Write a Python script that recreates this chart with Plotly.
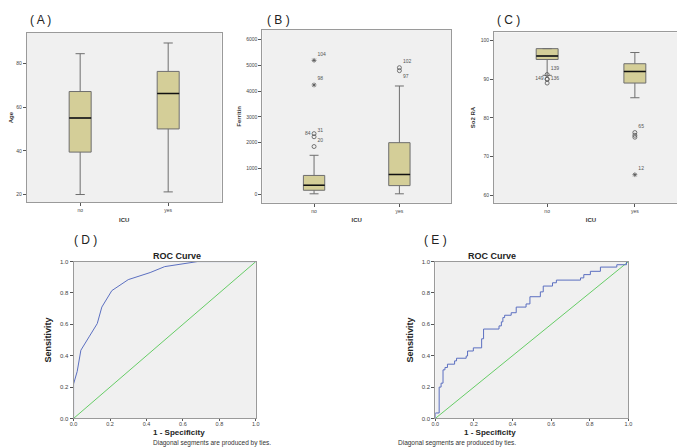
import plotly.graph_objects as go

# box plots by ICU admission
icu_groups = ["no", "yes"]

age_q1 = [39.4, 50.0]
age_median = [55.0, 66.2]
age_q3 = [67.1, 76.3]
age_low = [20.0, 21.2]
age_high = [84.4, 89.3]

fer_q1 = [153, 333]
fer_median = [345, 766]
fer_q3 = [728, 2000]
fer_low = [15, 15]
fer_high = [1510, 4200]
fer_out_group = ["no", "no", "no", "no", "no", "yes", "yes"]
fer_out_value = [5195, 4240, 2350, 2230, 1850, 4910, 4795]
fer_out_label = ["104", "98", "84", "31", "20", "102", "97"]
fer_out_symbol = ["asterisk-open", "asterisk-open", "circle-open", "circle-open",
                  "circle-open", "circle-open", "circle-open"]
fer_out_textpos = ["top right", "top right", "middle left", "top right",
                   "top right", "top right", "bottom right"]

so2_q1 = [95.1, 89.0]
so2_median = [96.0, 92.0]
so2_q3 = [97.9, 94.0]
so2_low = [91.0, 85.2]
so2_high = [97.9, 96.9]
so2_out_group = ["no", "no", "no", "no", "yes", "yes", "yes", "yes"]
so2_out_value = [91.2, 90.0, 90.0, 89.0, 76.2, 75.5, 75.0, 65.3]
so2_out_label = ["139", "149", "136", "", "65", "", "", "12"]
so2_out_symbol = ["circle-open", "circle-open", "circle-open", "circle-open",
                  "circle-open", "circle-open", "circle-open", "asterisk-open"]
so2_out_textpos = ["top right", "middle left", "middle right", "top right",
                   "top right", "top right", "top right", "top right"]

# ROC curves
roc_d_fpr = [0, 0, 0.02, 0.04, 0.085, 0.13, 0.155, 0.21, 0.3, 0.42, 0.5, 0.68, 1.0]
roc_d_tpr = [0, 0.22, 0.3, 0.435, 0.52, 0.605, 0.71, 0.815, 0.885, 0.93, 0.968, 1.0, 1.0]

roc_e_fpr = [0, 0, 0.02, 0.03, 0.04, 0.05, 0.063, 0.1, 0.11, 0.16, 0.167, 0.197,
             0.24, 0.25, 0.33, 0.342, 0.35, 0.359, 0.393, 0.419, 0.47, 0.49, 0.544,
             0.559, 0.607, 0.627, 0.752, 0.769, 0.803, 0.855, 0.94, 0.99, 1.0]
roc_e_tpr = [0, 0.035, 0.2, 0.225, 0.31, 0.325, 0.346, 0.367, 0.384, 0.398, 0.43, 0.45,
             0.508, 0.57, 0.59, 0.616, 0.643, 0.658, 0.674, 0.71, 0.73, 0.776, 0.807,
             0.844, 0.865, 0.882, 0.896, 0.917, 0.938, 0.965, 0.98, 1.0, 1.0]

BOX_FILL = "#d4ce98"
BOX_LINE = "#6e6e6e"
FRAME = "#9a9a9a"
FONT = "Arial, Liberation Sans, sans-serif"

W, H = 685, 447


def px(x):
    return x / W


def py(y):
    return 1 - y / H


fig = go.Figure()


def add_boxes(xa, ya, q1, med, q3, lo, hi):
    fig.add_trace(go.Box(x=icu_groups, q1=q1, median=med, q3=q3, lowerfence=lo, upperfence=hi,
                         fillcolor=BOX_FILL, line=dict(color=BOX_LINE, width=1), width=0.25,
                         whiskerwidth=0.42, boxpoints=False, xaxis=xa, yaxis=ya, showlegend=False))
    # thick black median line drawn on top
    fig.add_trace(go.Box(x=icu_groups, q1=med, median=med, q3=med, lowerfence=med, upperfence=med,
                         fillcolor="rgba(0,0,0,0)", line=dict(color="#111111", width=1.6), width=0.25,
                         whiskerwidth=0, boxpoints=False, xaxis=xa, yaxis=ya, showlegend=False))


def add_outliers(xa, ya, grp, val, lab, sym, pos):
    fig.add_trace(go.Scatter(x=grp, y=val, mode="markers+text", text=lab, textposition=pos,
                             marker=dict(symbol=sym, size=4, color="#555555", line=dict(width=0.8)),
                             textfont=dict(size=5, color="#555555"), cliponaxis=False,
                             xaxis=xa, yaxis=ya, showlegend=False))


add_boxes("x", "y", age_q1, age_median, age_q3, age_low, age_high)
add_boxes("x2", "y2", fer_q1, fer_median, fer_q3, fer_low, fer_high)
add_outliers("x2", "y2", fer_out_group, fer_out_value, fer_out_label, fer_out_symbol, fer_out_textpos)
add_boxes("x3", "y3", so2_q1, so2_median, so2_q3, so2_low, so2_high)
add_outliers("x3", "y3", so2_out_group, so2_out_value, so2_out_label, so2_out_symbol, so2_out_textpos)

for xa, ya, fpr, tpr, shape in [("x4", "y4", roc_d_fpr, roc_d_tpr, "linear"),
                                ("x5", "y5", roc_e_fpr, roc_e_tpr, "hv")]:
    fig.add_trace(go.Scatter(x=[0, 1], y=[0, 1], mode="lines", line=dict(color="#66cc66", width=1),
                             xaxis=xa, yaxis=ya, showlegend=False))
    fig.add_trace(go.Scatter(x=fpr, y=tpr, mode="lines", line=dict(color="#5b6fc0", width=1, shape=shape),
                             xaxis=xa, yaxis=ya, showlegend=False))

box_x = dict(type="category", categoryorder="array", categoryarray=icu_groups, range=[-0.606, 1.606],
             showline=True, mirror=True, linecolor=FRAME, linewidth=1, ticks="outside", ticklen=3,
             tickcolor="#555555", tickfont=dict(size=5, color="#444444"), showgrid=False,
             title=dict(text="<b>ICU</b>", font=dict(size=6, color="#333333"), standoff=5))
box_y = dict(showline=True, mirror=True, linecolor=FRAME, linewidth=1, ticks="outside", ticklen=3,
             tickcolor="#555555", tickfont=dict(size=5, color="#444444"), showgrid=False, zeroline=False)

roc_x = dict(range=[0, 1], tickvals=[0, 0.2, 0.4, 0.6, 0.8, 1.0], tickformat=".1f",
             showline=True, mirror=True, linecolor=FRAME, linewidth=1, ticks="outside", ticklen=2,
             ticklabelstandoff=-2,
             tickcolor="#555555", tickfont=dict(size=5.5, color="#444444"), showgrid=False, zeroline=False)
roc_y = dict(range=[0, 1], tickvals=[0, 0.2, 0.4, 0.6, 0.8, 1.0], tickformat=".1f",
             showline=True, mirror=True, linecolor=FRAME, linewidth=1, ticks="outside", ticklen=3,
             tickcolor="#555555", tickfont=dict(size=6, color="#444444"), showgrid=False, zeroline=False,
             title=dict(text="<b>Sensitivity</b>", font=dict(size=9, color="#222222"), standoff=6))

fig.update_layout(
    width=W, height=H, margin=dict(l=0, r=0, t=0, b=0),
    paper_bgcolor="white", plot_bgcolor="#f0f0f0", boxmode="overlay",
    font=dict(family=FONT, color="#333333"),
    xaxis=dict(box_x, domain=[px(15), px(212)], anchor="y"),
    yaxis=dict(box_y, domain=[py(194), py(22)], anchor="x", range=[16.4, 94], tickvals=[20, 40, 60, 80],
               title=dict(text="<b>Age</b>", font=dict(size=6, color="#333333"), standoff=4)),
    xaxis2=dict(box_x, domain=[px(253.3), px(444.3)], anchor="y2"),
    yaxis2=dict(box_y, domain=[py(194.3), py(19.3)], anchor="x2", range=[-330, 6372],
                tickvals=[0, 1000, 2000, 3000, 4000, 5000, 6000],
                title=dict(text="<b>Ferritin</b>", font=dict(size=6, color="#333333"), standoff=4)),
    xaxis3=dict(box_x, domain=[px(487.7), px(684)], anchor="y3"),
    yaxis3=dict(box_y, domain=[py(194.3), py(21.7)], anchor="x3", range=[58.06, 102.1],
                tickvals=[60, 70, 80, 90, 100],
                title=dict(text="<b>So2 RA</b>", font=dict(size=6, color="#333333"), standoff=4)),
    xaxis4=dict(roc_x, domain=[px(62.3), px(246.7)], anchor="y4"),
    yaxis4=dict(roc_y, domain=[py(413), py(254)], anchor="x4"),
    xaxis5=dict(roc_x, domain=[px(428.3), px(623.7)], anchor="y5"),
    yaxis5=dict(roc_y, domain=[py(413), py(254)], anchor="x5"),
)

# panel letters, ROC titles, x titles and footnotes
for txt, x, y in [("( A )", 16, 9), ("( B )", 256, 9), ("( C )", 489, 9),
                  ("( D )", 61, 232), ("( E )", 415, 232)]:
    fig.add_annotation(text=txt, x=px(x), y=py(y), xref="paper", yref="paper",
                       xanchor="left", yanchor="middle", showarrow=False,
                       font=dict(size=12, color="#222222"))
for cx in [141, 512]:
    fig.add_annotation(text="<b>ROC Curve</b>", x=px(cx), y=py(248), xref="paper", yref="paper",
                       showarrow=False, font=dict(size=9, color="#222222"))
    fig.add_annotation(text="<b>1 - Specificity</b>", x=px(cx), y=py(434), xref="paper",
                       yref="paper", showarrow=False, font=dict(size=8, color="#222222"))
    fig.add_annotation(text="Diagonal segments are produced by ties.", x=px(cx), y=py(443.5),
                       xref="paper", yref="paper", showarrow=False, font=dict(size=6.5, color="#333333"))

fig.write_html("out.html")
